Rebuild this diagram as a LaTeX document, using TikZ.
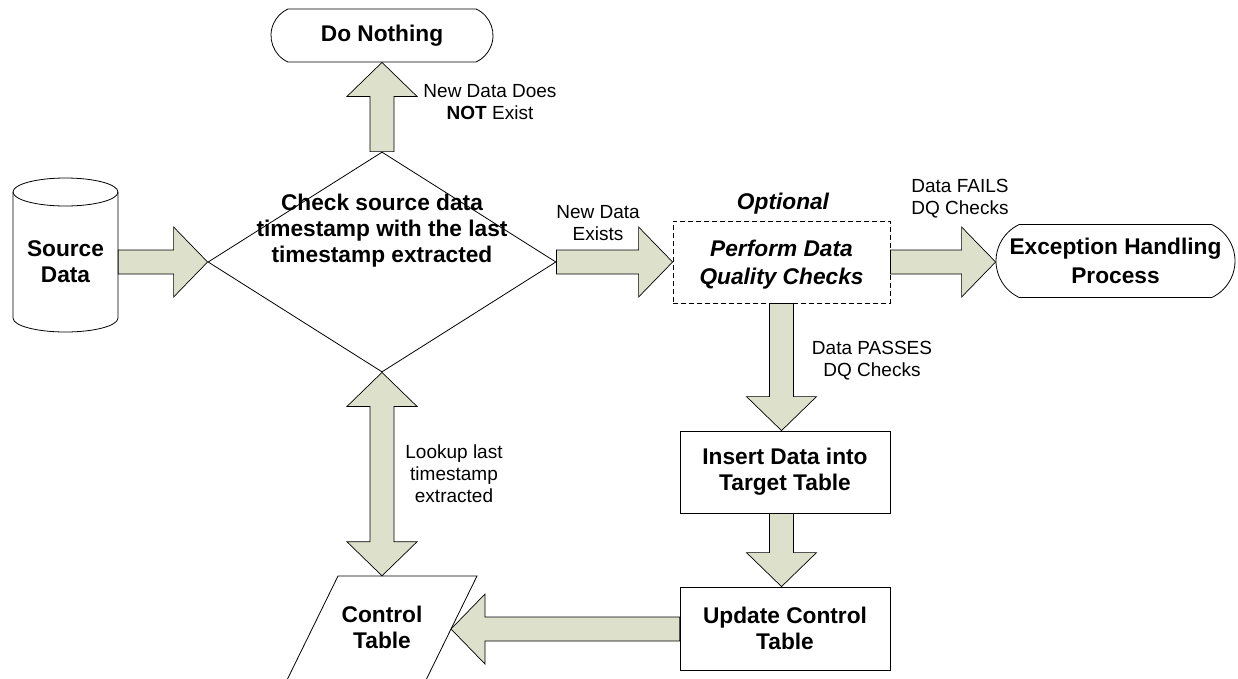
\documentclass[tikz,border=0pt]{standalone}
\usepackage{fontspec}
\setmainfont{Liberation Sans}
\usetikzlibrary{shapes.geometric,shapes.misc,calc}
\definecolor{arrfill}{RGB}{221,224,203}
\newcommand{\bfnt}{\fontsize{22.7}{26}\selectfont\bfseries}
\newcommand{\lblfnt}{\fontsize{19}{22}\selectfont}
\newcommand{\blockarrow}[2]{%
  \path (#1) coordinate (ba-s) (#2) coordinate (ba-t);
  \path ($(ba-t)!34pt!(ba-s)$) coordinate (ba-h);
  \draw[arrowbody] ($(ba-s)!12pt!90:(ba-t)$) -- ($(ba-h)!12pt!90:(ba-t)$) -- ($(ba-h)!35pt!90:(ba-t)$) -- (ba-t)
    -- ($(ba-h)!35pt!-90:(ba-t)$) -- ($(ba-h)!12pt!-90:(ba-t)$) -- ($(ba-s)!12pt!-90:(ba-t)$) -- cycle;}
\newcommand{\dblarrow}[2]{%
  \path (#1) coordinate (da-s) (#2) coordinate (da-t);
  \path ($(da-s)!34pt!(da-t)$) coordinate (da-hs) ($(da-t)!34pt!(da-s)$) coordinate (da-ht);
  \draw[arrowbody] (da-s) -- ($(da-hs)!35pt!90:(da-t)$) -- ($(da-hs)!12pt!90:(da-t)$) -- ($(da-ht)!12pt!-90:(da-s)$)
    -- ($(da-ht)!35pt!-90:(da-s)$) -- (da-t) -- ($(da-ht)!35pt!90:(da-s)$) -- ($(da-ht)!12pt!90:(da-s)$)
    -- ($(da-hs)!12pt!-90:(da-t)$) -- ($(da-hs)!35pt!-90:(da-t)$) -- cycle;}
\tikzset{
  arrowbody/.style={draw=black, fill=arrfill, line width=0.7pt, line join=miter},
  outline/.style={draw=black, line width=0.8pt},
  boxtext/.style={align=center, font=\bfnt, inner sep=0pt},
  procbox/.style={outline, rectangle, boxtext},
  terminal/.style={outline, rounded rectangle, rounded rectangle arc length=130, boxtext},
  lbl/.style={align=center, font=\lblfnt, inner sep=0pt},
}
\begin{document}
\begin{tikzpicture}[x=1pt,y=-1pt]
\useasboundingbox (0,0) rectangle (1238,678);
% source data cylinder
\draw[outline] (13,192) -- (13,318) arc[start angle=180,end angle=0,x radius=52.5,y radius=14] -- (118,192);
\draw[outline] (65.5,192) ellipse[x radius=52.5,y radius=14];
\node[boxtext, minimum width=105pt] (src) at (65.5,262) {Source\\Data};
% decision
\node[outline, diamond, minimum width=348pt, minimum height=220pt, inner sep=0pt] (diam) at (382,262) {};
\node[boxtext] (chk) at (382,231) {Check source data\\timestamp with the last\\timestamp extracted};
% do nothing
\node[terminal, minimum width=222pt, minimum height=53pt] (dn) at (382,35.5) {Do Nothing};
% DQ box
\node[outline, dashed, dash pattern=on 5pt off 3pt, rectangle, minimum width=217pt, minimum height=82pt, align=center,
      font=\bfnt\itshape, inner sep=0pt, text depth=0pt] (dq) at (781.5,262) {Perform Data\\[2pt]Quality Checks};
\node[font=\bfnt\itshape, inner sep=0pt] (opt) at (783,204) {Optional};
% exception
\node[terminal, minimum width=239pt, minimum height=73pt] (exc) at (1115.5,261) {Exception Handling\\[3pt]Process};
% insert / update
\node[procbox, minimum width=210pt, minimum height=82pt] (ins) at (785,472) {Insert Data into\\Target Table};
\node[procbox, minimum width=210pt, minimum height=83pt] (upd) at (785,628.5) {Update Control\\Table};
% control table
\node[boxtext, minimum height=102pt] (ctl) at (382,627) {Control\\Table};
\draw[outline] (287.5,679) -- (338,576) -- (477,576) -- (426.5,679);
\coordinate (ctlr) at (451,629);
% arrows
\blockarrow{src.east |- diam.west}{diam.west}
\blockarrow{diam.north}{dn.south}
\blockarrow{diam.east}{dq.west}
\blockarrow{dq.east}{exc.west |- dq.east}
\blockarrow{dq.south}{dq.south |- ins.north}
\blockarrow{dq.south |- ins.south}{dq.south |- upd.north}
\blockarrow{upd.west |- ctlr}{ctlr}
\dblarrow{diam.south}{ctl.north}
% labels
\node[lbl] (l1) at (490,102) {New Data Does\\\textbf{NOT} Exist};
\node[lbl] (l2) at (598,223) {New Data\\Exists};
\node[lbl] (l3) at (960,199) {Data FAILS\\DQ Checks};
\node[lbl] (l4) at (872,360.5) {Data PASSES\\DQ Checks};
\node[lbl] (l5) at (454,473.5) {Lookup last\\timestamp\\extracted};
\end{tikzpicture}
\end{document}
